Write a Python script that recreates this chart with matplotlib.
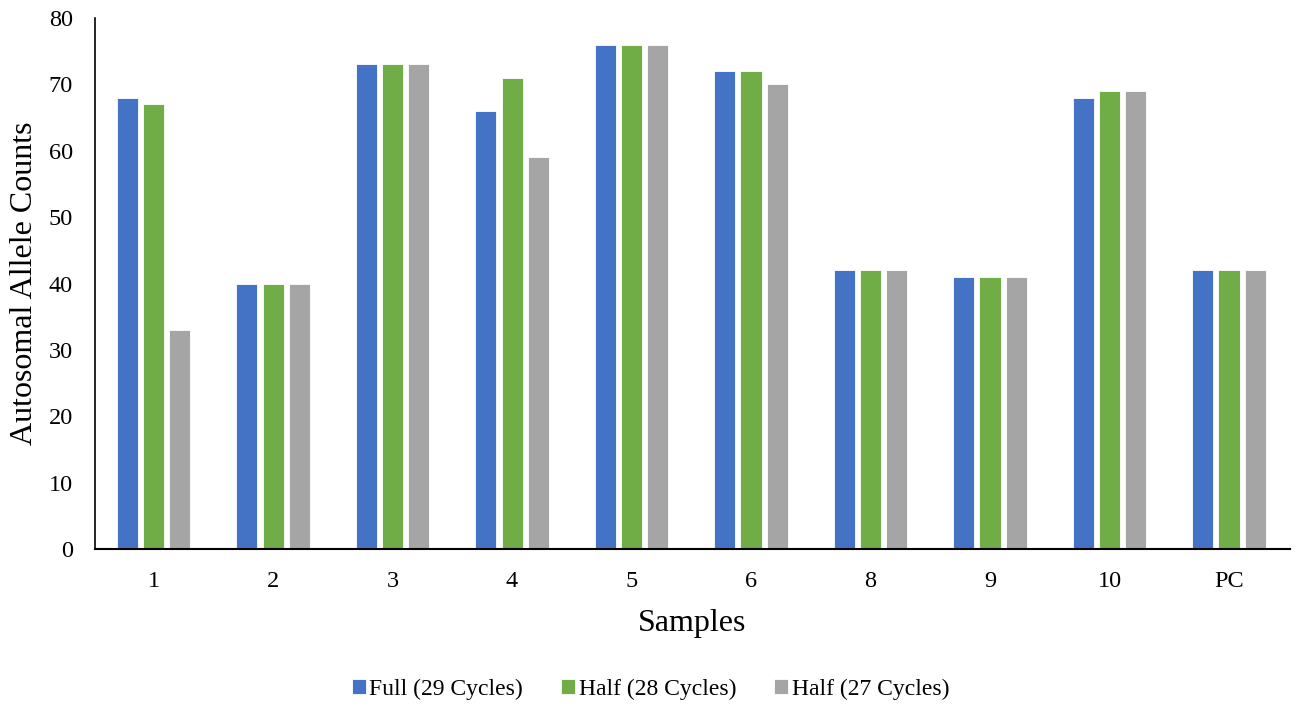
import matplotlib.pyplot as plt
import numpy as np

plt.rcParams['font.family'] = ['Liberation Serif', 'DejaVu Serif']

samples = ['1', '2', '3', '4', '5', '6', '8', '9', '10', 'PC']
full_29 = [68, 40, 73, 66, 76, 72, 42, 41, 68, 42]
half_28 = [67, 40, 73, 71, 76, 72, 42, 41, 69, 42]
half_27 = [33, 40, 73, 59, 76, 70, 42, 41, 69, 42]

series = [
    ('Full (29 Cycles)', full_29, '#4472C4'),
    ('Half (28 Cycles)', half_28, '#70AD47'),
    ('Half (27 Cycles)', half_27, '#A5A5A5'),
]

fig = plt.figure(figsize=(13.01, 7.07), dpi=100)
ax = fig.add_axes([0.073, 0.2235, 0.9185, 0.751])

x = np.arange(len(samples))
w = 0.176
step = 0.218
for i, (name, vals, col) in enumerate(series):
    ax.bar(x + (i - 1) * step, vals, w, color=col, label=name,
           edgecolor='white', linewidth=0.6)

ax.set_xlim(-0.49, 9.51)
ax.set_ylim(0, 80)
ax.set_yticks(range(0, 81, 10))
ax.set_xticks(x)
ax.set_xticklabels(samples)
ax.tick_params(length=0, labelsize=17.5)
ax.tick_params(axis='x', pad=16)
ax.tick_params(axis='y', pad=16)
for s in ['top', 'right']:
    ax.spines[s].set_visible(False)
ax.spines['left'].set_linewidth(1.2)
ax.spines['bottom'].set_linewidth(1.5)

ax.set_xlabel('Samples', fontsize=23, labelpad=12)
ax.set_ylabel('Autosomal Allele Counts', fontsize=23, labelpad=7)

fig.legend(loc='center', bbox_to_anchor=(0.5, 0.025), ncol=3, frameon=False,
           fontsize=17, handlelength=0.6, handleheight=0.6, handletextpad=0.15,
           columnspacing=1.6)

fig.savefig('out.png', dpi=100)
